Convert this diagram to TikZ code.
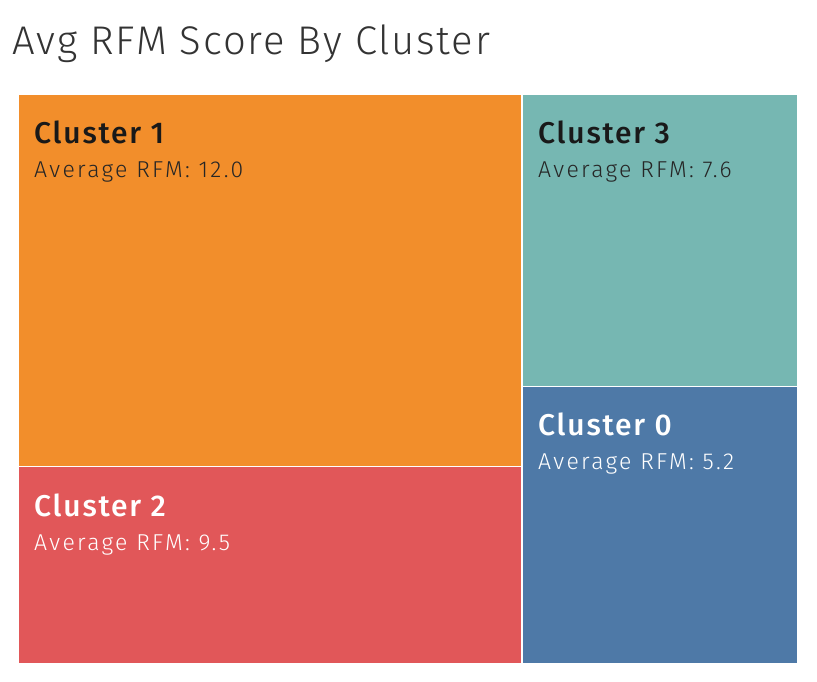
\documentclass[tikz,border=0pt]{standalone}
\usepackage{fontspec}
\setmainfont{Fira Sans Light}[LetterSpace=10]
\newfontfamily\titlefont{Fira Sans Light}[LetterSpace=4.5]
\newfontfamily\headfont{Fira Sans Medium}[LetterSpace=6]
\usetikzlibrary{positioning}
\definecolor{clorange}{HTML}{F28E2B}
\definecolor{clred}{HTML}{E15759}
\definecolor{clteal}{HTML}{76B7B2}
\definecolor{clblue}{HTML}{4E79A7}
\definecolor{titlegray}{HTML}{333333}
\tikzset{
	head/.style={inner sep=0pt, anchor=base west, font=\headfont\fontsize{30}{34}\selectfont},
	sub/.style={inner sep=0pt, anchor=base west, font=\fontsize{23}{26}\selectfont},
}
\begin{document}
\begin{tikzpicture}[x=1pt, y=-1pt]
		\useasboundingbox (0,0) rectangle (817,682);
		\node[inner sep=0pt, anchor=base west, text=titlegray, font=\titlefont\fontsize{40}{44}\selectfont] (title) at (12,55) {Avg RFM Score By Cluster};
		% tiles
		\fill[clorange] (19,95) rectangle (521,465.5);
		\fill[clred] (19,466.5) rectangle (521,662.5);
		\fill[clteal] (522.5,95) rectangle (797,385.5);
		\fill[clblue] (522.5,386.5) rectangle (797,662.5);
		% labels
		\node[head, text=black!90] (h1) at (34,144) {Cluster 1};
		\node[sub, text=black!85] (s1) at ([yshift=-34pt]h1.base west) {Average RFM: 12.0};
		\node[head, text=white] (h2) at (34,516) {Cluster 2};
		\node[sub, text=white] (s2) at ([yshift=-34pt]h2.base west) {Average RFM: 9.5};
		\node[head, text=black!90] (h3) at (538,144) {Cluster 3};
		\node[sub, text=black!85] (s3) at ([yshift=-34pt]h3.base west) {Average RFM: 7.6};
		\node[head, text=white] (h0) at (538,435) {Cluster 0};
		\node[sub, text=white] (s0) at ([yshift=-34pt]h0.base west) {Average RFM: 5.2};
	\end{tikzpicture}
\end{document}
